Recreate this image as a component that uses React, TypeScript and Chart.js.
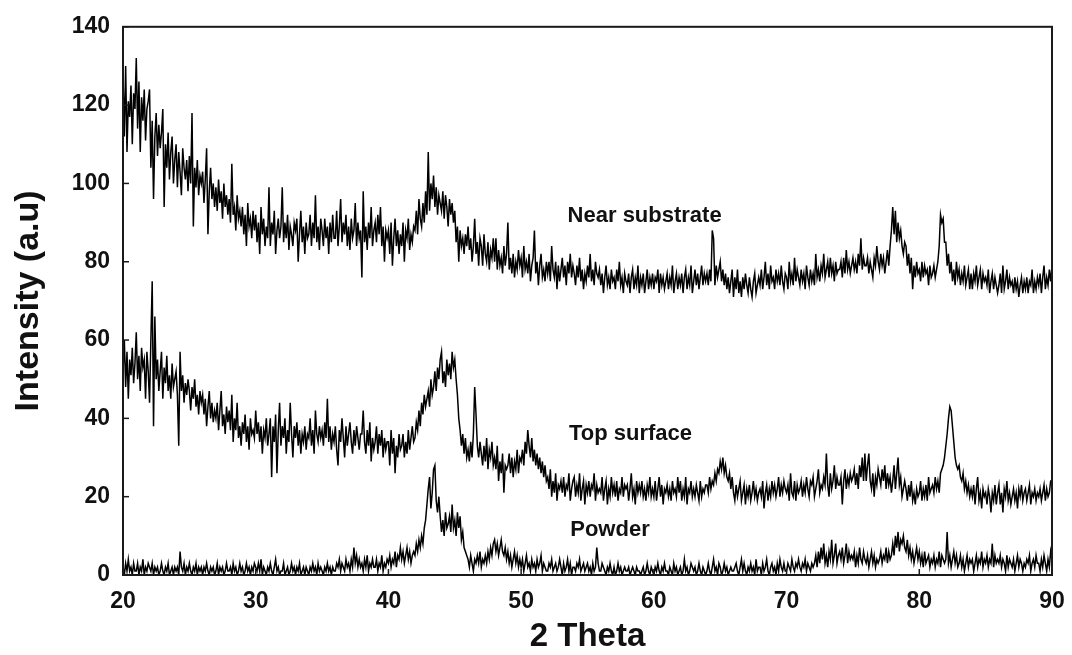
import React, { useEffect, useRef } from "react";
import { Chart, registerables } from "chart.js";

Chart.register(...registerables);

// 2-theta grid: first angle and step (degrees)
const START_ANGLE = 20;
const STEP = 0.1;

// Near substrate intensities, 20.0 -> 90.0 every 0.1 degree (one line per degree)
const nearSubstrate = [
  128, 112, 130, 108, 121, 117, 125, 110, 123, 119, // 20
  132, 114, 126, 108, 122, 116, 124, 111, 119, 121, // 21
  124, 104, 116, 96, 112, 118, 107, 115, 109, 113, // 22
  119, 94, 110, 104, 113, 101, 108, 112, 100, 106, // 23
  110, 99, 108, 103, 97, 109, 104, 101, 106, 98, // 24
  107, 100, 118, 89, 104, 99, 106, 97, 102, 100, // 25
  103, 95, 101, 109, 87, 98, 104, 96, 100, 94, // 26
  99, 93, 101, 95, 98, 91, 100, 94, 97, 92, // 27
  96, 90, 105, 92, 94, 88, 97, 91, 93, 89, // 28
  94, 87, 92, 84, 95, 89, 91, 86, 93, 88, // 29
  92, 85, 90, 82, 94, 87, 91, 84, 89, 86, // 30
  99, 84, 90, 87, 93, 82, 88, 91, 86, 89, // 31
  99, 85, 90, 86, 92, 83, 89, 87, 84, 90, // 32
  88, 91, 80, 87, 93, 85, 89, 82, 90, 86, // 33
  87, 92, 84, 90, 86, 97, 85, 89, 83, 91, // 34
  88, 84, 91, 86, 89, 82, 90, 85, 92, 86, // 35
  86, 93, 84, 89, 96, 85, 90, 87, 92, 84, // 36
  89, 83, 91, 86, 88, 95, 84, 90, 86, 88, // 37
  76, 98, 85, 89, 83, 90, 86, 94, 84, 88, // 38
  90, 85, 92, 87, 94, 84, 89, 80, 88, 86, // 39
  88, 82, 90, 79, 86, 91, 84, 88, 82, 87, // 40
  84, 90, 80, 88, 86, 91, 83, 87, 85, 89, // 41
  88, 93, 87, 96, 91, 89, 95, 90, 98, 92, // 42
  108, 93, 100, 96, 102, 94, 99, 92, 97, 95, // 43
  93, 98, 91, 97, 94, 89, 96, 92, 95, 90, // 44
  93, 85, 89, 80, 88, 84, 86, 82, 87, 84, // 45
  89, 83, 86, 80, 84, 91, 82, 85, 79, 86, // 46
  84, 79, 87, 82, 80, 85, 78, 83, 81, 86, // 47
  80, 86, 78, 83, 79, 81, 77, 84, 79, 82, // 48
  90, 78, 81, 77, 82, 76, 80, 78, 83, 79, // 49
  81, 76, 84, 78, 80, 77, 82, 75, 79, 81, // 50
  88, 77, 80, 74, 79, 82, 76, 78, 75, 80, // 51
  77, 80, 75, 84, 78, 76, 80, 73, 79, 75, // 52
  78, 81, 76, 79, 74, 80, 77, 82, 76, 79, // 53
  77, 74, 79, 76, 81, 75, 78, 73, 77, 75, // 54
  79, 76, 82, 75, 78, 74, 80, 77, 76, 78, // 55
  74, 77, 72, 76, 79, 74, 76, 73, 78, 75, // 56
  76, 73, 78, 75, 80, 74, 76, 72, 77, 75, // 57
  74, 77, 72, 76, 78, 73, 76, 74, 79, 72, // 58
  76, 74, 77, 72, 75, 78, 73, 76, 74, 77, // 59
  73, 76, 75, 78, 72, 77, 74, 76, 73, 75, // 60
  77, 73, 76, 74, 79, 72, 75, 77, 73, 76, // 61
  74, 77, 72, 76, 78, 73, 76, 74, 79, 72, // 62
  75, 78, 74, 77, 73, 76, 79, 74, 77, 75, // 63
  77, 74, 78, 75, 88, 86, 74, 79, 76, 78, // 64
  80, 75, 78, 74, 77, 73, 76, 72, 75, 78, // 65
  71, 76, 73, 78, 72, 75, 71, 76, 73, 77, // 66
  74, 72, 76, 73, 71, 75, 77, 72, 74, 76, // 67
  74, 78, 73, 76, 80, 74, 77, 73, 79, 75, // 68
  76, 73, 78, 75, 77, 74, 79, 75, 73, 77, // 69
  76, 73, 80, 75, 77, 74, 81, 75, 78, 76, // 70
  74, 78, 75, 77, 73, 79, 76, 74, 78, 75, // 71
  77, 74, 82, 76, 78, 75, 79, 77, 82, 76, // 72
  78, 80, 76, 81, 77, 79, 75, 80, 77, 78, // 73
  78, 80, 76, 81, 77, 83, 78, 80, 77, 79, // 74
  81, 78, 80, 77, 82, 79, 86, 78, 81, 79, // 75
  79, 81, 77, 80, 78, 76, 81, 79, 84, 80, // 76
  78, 82, 79, 81, 77, 80, 83, 79, 84, 88, // 77
  94, 87, 93, 85, 90, 86, 88, 84, 82, 85, // 78
  84, 79, 82, 77, 81, 73, 79, 76, 80, 77, // 79
  78, 75, 80, 76, 79, 77, 78, 74, 79, 76, // 80
  77, 79, 76, 78, 80, 84, 92, 90, 91, 85, // 81
  85, 79, 82, 77, 80, 75, 78, 74, 80, 76, // 82
  78, 74, 77, 75, 79, 74, 76, 78, 73, 77, // 83
  73, 77, 75, 79, 74, 76, 78, 73, 77, 75, // 84
  76, 74, 78, 72, 75, 77, 73, 76, 74, 72, // 85
  74, 77, 72, 79, 73, 75, 78, 73, 76, 74, // 86
  75, 72, 76, 73, 75, 71, 74, 76, 72, 75, // 87
  73, 76, 72, 75, 74, 78, 72, 75, 73, 76, // 88
  74, 77, 72, 76, 79, 73, 76, 74, 78, 75, // 89
  79, // 90
];

// Top surface intensities
const topSurface = [
  52, 60, 48, 57, 45, 55, 51, 58, 49, 54, // 20
  62, 50, 56, 47, 58, 53, 55, 45, 57, 52, // 21
  44, 60, 75, 38, 66, 50, 55, 47, 52, 57, // 22
  45, 53, 49, 56, 47, 51, 45, 54, 48, 50, // 23
  52, 46, 33, 57, 47, 51, 44, 49, 46, 50, // 24
  47, 42, 48, 45, 50, 43, 46, 41, 47, 44, // 25
  46, 41, 45, 38, 43, 47, 40, 44, 39, 42, // 26
  40, 44, 37, 42, 47, 38, 41, 36, 43, 39, // 27
  42, 37, 46, 34, 40, 37, 44, 35, 38, 33, // 28
  39, 36, 41, 34, 38, 32, 40, 36, 37, 35, // 29
  42, 36, 39, 34, 38, 31, 37, 35, 40, 33, // 30
  36, 40, 25, 38, 34, 41, 26, 37, 44, 33, // 31
  38, 35, 40, 31, 37, 34, 44, 36, 30, 38, // 32
  35, 39, 33, 37, 31, 36, 34, 38, 32, 36, // 33
  35, 40, 33, 37, 31, 42, 36, 34, 38, 35, // 34
  37, 33, 39, 35, 45, 34, 38, 32, 36, 34, // 35
  38, 32, 28, 37, 34, 40, 35, 30, 38, 33, // 36
  36, 39, 34, 31, 37, 33, 38, 35, 32, 36, // 37
  36, 42, 34, 31, 37, 33, 39, 29, 35, 32, // 38
  34, 38, 31, 36, 33, 37, 30, 35, 32, 34, // 39
  34, 28, 37, 31, 35, 26, 33, 30, 36, 32, // 40
  33, 36, 30, 34, 31, 37, 32, 35, 38, 34, // 41
  35, 39, 37, 42, 38, 44, 41, 46, 43, 45, // 42
  47, 43, 50, 46, 48, 52, 47, 53, 50, 55, // 43
  57, 49, 52, 48, 55, 51, 54, 50, 57, 53, // 44
  55, 50, 46, 40, 37, 33, 36, 31, 35, 30, // 45
  32, 29, 34, 30, 36, 48, 41, 33, 30, 34, // 46
  31, 28, 33, 29, 35, 27, 32, 30, 34, 28, // 47
  30, 27, 33, 24, 29, 26, 31, 21, 28, 27, // 48
  28, 31, 26, 30, 25, 29, 27, 32, 26, 30, // 49
  29, 32, 28, 34, 31, 37, 33, 30, 35, 29, // 50
  32, 28, 31, 27, 30, 26, 29, 25, 28, 24, // 51
  25, 22, 27, 20, 24, 21, 26, 19, 23, 22, // 52
  24, 21, 25, 20, 23, 22, 26, 19, 22, 24, // 53
  25, 20, 23, 21, 26, 19, 22, 24, 18, 23, // 54
  21, 24, 20, 23, 22, 26, 19, 23, 21, 22, // 55
  21, 25, 19, 22, 24, 18, 22, 20, 25, 21, // 56
  23, 20, 24, 19, 22, 21, 25, 20, 23, 22, // 57
  23, 19, 22, 26, 20, 22, 18, 24, 21, 23, // 58
  21, 24, 20, 22, 19, 23, 21, 25, 20, 22, // 59
  20, 24, 19, 22, 25, 20, 23, 18, 22, 21, // 60
  23, 20, 22, 19, 24, 21, 22, 20, 25, 21, // 61
  24, 19, 22, 20, 25, 18, 22, 21, 24, 20, // 62
  22, 20, 23, 21, 19, 24, 20, 22, 21, 23, // 63
  23, 21, 25, 22, 24, 23, 26, 24, 27, 26, // 64
  29, 27, 30, 26, 28, 25, 24, 26, 22, 25, // 65
  21, 19, 23, 20, 22, 24, 19, 21, 23, 18, // 66
  22, 20, 23, 19, 21, 24, 20, 22, 19, 21, // 67
  22, 20, 24, 17, 21, 23, 19, 22, 20, 24, // 68
  21, 23, 20, 22, 25, 20, 23, 21, 24, 22, // 69
  21, 23, 19, 26, 21, 20, 24, 19, 23, 21, // 70
  22, 24, 20, 23, 21, 25, 22, 20, 24, 23, // 71
  25, 20, 22, 24, 27, 21, 23, 22, 25, 23, // 72
  31, 23, 20, 26, 22, 24, 28, 22, 25, 23, // 73
  23, 25, 18, 24, 27, 22, 25, 23, 26, 24, // 74
  25, 27, 23, 26, 22, 28, 25, 30, 24, 31, // 75
  24, 28, 31, 24, 22, 26, 20, 25, 23, 27, // 76
  25, 23, 27, 24, 28, 22, 26, 23, 25, 21, // 77
  24, 28, 22, 26, 30, 23, 25, 20, 22, 24, // 78
  22, 19, 23, 20, 24, 19, 21, 18, 22, 20, // 79
  21, 24, 19, 22, 20, 23, 19, 25, 21, 22, // 80
  23, 21, 25, 22, 24, 21, 26, 27, 28, 30, // 81
  33, 36, 40, 43, 42, 38, 34, 30, 28, 27, // 82
  28, 25, 24, 26, 22, 24, 21, 23, 20, 22, // 83
  20, 23, 18, 22, 25, 19, 21, 17, 22, 20, // 84
  21, 18, 22, 20, 16, 21, 19, 23, 18, 21, // 85
  23, 18, 21, 16, 22, 20, 24, 19, 21, 18, // 86
  20, 22, 19, 21, 17, 22, 20, 23, 19, 21, // 87
  22, 19, 21, 23, 18, 21, 20, 22, 19, 21, // 88
  20, 22, 19, 21, 23, 19, 22, 20, 21, 24, // 89
  24, // 90
];

// Powder intensities
const powder = [
  2, 0, 3, 1, 4, 1, 2, 0, 3, 1, // 20
  1, 3, 0, 2, 1, 4, 0, 2, 1, 3, // 21
  2, 1, 3, 0, 2, 1, 2, 0, 1, 3, // 22
  1, 0, 2, 1, 3, 0, 1, 2, 0, 2, // 23
  1, 2, 0, 6, 2, 1, 3, 0, 2, 1, // 24
  3, 1, 0, 2, 1, 3, 0, 2, 1, 2, // 25
  0, 2, 1, 3, 1, 0, 2, 1, 2, 0, // 26
  1, 3, 0, 2, 1, 2, 0, 1, 3, 1, // 27
  1, 2, 0, 3, 1, 2, 0, 1, 3, 1, // 28
  2, 0, 1, 3, 1, 2, 0, 2, 1, 3, // 29
  2, 1, 3, 1, 4, 0, 2, 1, 0, 2, // 30
  1, 3, 1, 0, 2, 4, 1, 2, 0, 1, // 31
  1, 3, 0, 1, 2, 0, 1, 3, 1, 2, // 32
  0, 2, 1, 3, 0, 1, 2, 0, 2, 1, // 33
  0, 2, 1, 3, 1, 2, 0, 3, 1, 2, // 34
  1, 0, 2, 1, 3, 1, 2, 0, 2, 1, // 35
  1, 3, 2, 4, 1, 3, 2, 1, 4, 2, // 36
  3, 1, 4, 2, 7, 3, 5, 2, 4, 2, // 37
  3, 1, 4, 2, 5, 1, 3, 2, 4, 2, // 38
  2, 4, 1, 3, 2, 5, 1, 3, 2, 4, // 39
  3, 5, 2, 4, 3, 6, 2, 5, 4, 7, // 40
  4, 6, 3, 5, 7, 4, 6, 3, 5, 6, // 41
  5, 8, 6, 9, 7, 10, 8, 12, 14, 18, // 42
  22, 25, 17, 21, 27, 28, 19, 16, 20, 15, // 43
  11, 14, 10, 16, 12, 13, 15, 11, 18, 12, // 44
  14, 10, 16, 12, 15, 9, 11, 7, 6, 5, // 45
  4, 2, 5, 3, 1, 4, 3, 5, 3, 6, // 46
  2, 4, 3, 5, 3, 6, 4, 7, 5, 8, // 47
  9, 6, 8, 5, 7, 9, 6, 5, 7, 4, // 48
  6, 3, 5, 2, 4, 6, 3, 5, 2, 4, // 49
  2, 4, 1, 3, 5, 2, 3, 1, 4, 2, // 50
  3, 1, 4, 2, 3, 5, 1, 3, 2, 1, // 51
  1, 3, 2, 4, 1, 2, 3, 1, 2, 4, // 52
  2, 0, 3, 1, 2, 4, 1, 3, 0, 2, // 53
  2, 1, 3, 2, 4, 1, 2, 3, 1, 2, // 54
  3, 1, 2, 0, 3, 1, 2, 7, 3, 1, // 55
  1, 3, 2, 1, 0, 2, 1, 3, 1, 0, // 56
  2, 0, 1, 3, 1, 2, 0, 1, 2, 1, // 57
  1, 2, 0, 1, 2, 1, 0, 2, 1, 1, // 58
  0, 1, 2, 0, 1, 3, 1, 0, 2, 1, // 59
  0, 2, 1, 3, 1, 0, 2, 1, 3, 1, // 60
  1, 0, 2, 1, 0, 3, 1, 2, 0, 1, // 61
  2, 0, 1, 4, 1, 2, 0, 1, 3, 2, // 62
  1, 2, 0, 1, 3, 1, 0, 2, 1, 0, // 63
  1, 3, 1, 0, 2, 4, 1, 2, 0, 3, // 64
  2, 0, 1, 3, 1, 2, 0, 1, 2, 1, // 65
  1, 2, 3, 1, 0, 2, 4, 1, 3, 1, // 66
  0, 2, 1, 3, 1, 2, 0, 4, 1, 2, // 67
  2, 0, 3, 1, 2, 4, 1, 0, 2, 3, // 68
  1, 2, 0, 3, 1, 4, 2, 1, 3, 1, // 69
  1, 3, 2, 1, 4, 2, 1, 3, 2, 4, // 70
  2, 1, 3, 2, 4, 1, 3, 2, 1, 3, // 71
  2, 3, 5, 2, 6, 3, 7, 4, 8, 3, // 72
  5, 2, 6, 4, 9, 3, 5, 8, 3, 5, // 73
  6, 4, 7, 3, 5, 8, 3, 6, 4, 5, // 74
  4, 6, 2, 5, 3, 7, 4, 3, 6, 4, // 75
  3, 5, 2, 4, 6, 3, 5, 2, 4, 3, // 76
  4, 6, 3, 5, 4, 7, 3, 6, 4, 5, // 77
  8, 5, 10, 7, 11, 6, 9, 8, 10, 7, // 78
  6, 9, 5, 7, 4, 6, 3, 5, 7, 4, // 79
  6, 3, 5, 2, 6, 3, 4, 5, 2, 4, // 80
  3, 5, 2, 4, 3, 6, 2, 5, 4, 3, // 81
  4, 11, 3, 5, 2, 4, 6, 3, 5, 2, // 82
  3, 5, 2, 4, 1, 3, 5, 2, 4, 3, // 83
  4, 1, 3, 5, 2, 4, 3, 6, 2, 4, // 84
  3, 5, 2, 4, 3, 8, 2, 5, 3, 4, // 85
  3, 5, 2, 4, 3, 1, 5, 2, 4, 3, // 86
  2, 4, 1, 3, 5, 2, 4, 3, 1, 3, // 87
  2, 4, 3, 5, 1, 3, 4, 2, 5, 3, // 88
  3, 1, 4, 2, 5, 3, 1, 4, 2, 6, // 89
  4, // 90
];

const xTickValues = [20, 30, 40, 50, 60, 70, 80, 90];
const yTickValues = [0, 20, 40, 60, 80, 100, 120, 140];

const seriesNames = ["Near substrate", "Top surface", "Powder"];
const labelAngles = [53.5, 53.6, 53.7];
const labelLevels = [91.6, 36.1, 11.5];

const FONT = '"Liberation Sans", Arial, sans-serif';

function toPoints(values: number[]) {
  return values.map((v, i) => ({ x: Math.round((START_ANGLE + i * STEP) * 10) / 10, y: v }));
}

const framePlugin = {
  id: "frameAndLabels",
  afterDatasetsDraw(chart: any) {
    const { ctx, chartArea, scales } = chart;
    const { left, top, right, bottom } = chartArea;
    ctx.save();
    ctx.strokeStyle = "#1a1a1a";
    ctx.lineWidth = 2;
    ctx.strokeRect(left, top, right - left, bottom - top);
    ctx.lineWidth = 1.5;
    yTickValues.forEach((v) => {
      const y = scales.y.getPixelForValue(v);
      ctx.beginPath();
      ctx.moveTo(left, y);
      ctx.lineTo(left + 6, y);
      ctx.stroke();
    });
    xTickValues.forEach((v) => {
      const x = scales.x.getPixelForValue(v);
      ctx.beginPath();
      ctx.moveTo(x, bottom);
      ctx.lineTo(x, bottom - 6);
      ctx.stroke();
    });
    ctx.font = `bold 22px ${FONT}`;
    ctx.fillStyle = "#111";
    ctx.textAlign = "left";
    ctx.textBaseline = "middle";
    seriesNames.forEach((name, i) => {
      ctx.fillText(
        name,
        scales.x.getPixelForValue(labelAngles[i]),
        scales.y.getPixelForValue(labelLevels[i])
      );
    });
    ctx.restore();
  },
};

export default function App() {
  const canvasRef = useRef<HTMLCanvasElement | null>(null);

  useEffect(() => {
    if (!canvasRef.current) return;
    const mk = (label: string, values: number[]) => ({
      label,
      data: toPoints(values),
      borderColor: "#000",
      borderWidth: 1.5,
      pointRadius: 0,
      tension: 0,
      fill: false,
    });
    const chart = new Chart(canvasRef.current, {
      type: "line",
      data: {
        datasets: [
          mk(seriesNames[0], nearSubstrate),
          mk(seriesNames[1], topSurface),
          mk(seriesNames[2], powder),
        ],
      },
      options: {
        animation: false,
        responsive: true,
        maintainAspectRatio: false,
        layout: { padding: { left: 0, top: 25, right: 20, bottom: 0 } },
        plugins: { legend: { display: false }, tooltip: { enabled: false } },
        scales: {
          x: {
            type: "linear",
            min: 20,
            max: 90,
            afterBuildTicks: (s: any) => {
              s.ticks = xTickValues.map((v) => ({ value: v }));
            },
            afterFit: (s: any) => {
              s.height = 80;
              s.paddingLeft = 13;
              s.paddingRight = 13;
            },
            grid: { display: false, drawTicks: false },
            border: { display: false },
            ticks: {
              color: "#111",
              padding: 13,
              font: { family: FONT, size: 23, weight: "bold" },
              maxRotation: 0,
            },
            title: {
              display: true,
              text: "2 Theta",
              color: "#111",
              font: { family: FONT, size: 33, weight: "bold", lineHeight: 1.1 },
              padding: { top: 0, bottom: 0 },
            },
          },
          y: {
            type: "linear",
            min: 0,
            max: 140,
            afterBuildTicks: (s: any) => {
              s.ticks = yTickValues.map((v) => ({ value: v }));
            },
            afterFit: (s: any) => {
              s.width = 123;
            },
            grid: { display: false, drawTicks: false },
            border: { display: false },
            ticks: {
              color: "#111",
              padding: 13,
              font: { family: FONT, size: 23, weight: "bold" },
            },
            title: {
              display: true,
              text: "Intensity (a.u)",
              color: "#111",
              font: { family: FONT, size: 34, weight: "bold", lineHeight: 1.2 },
              padding: { top: 8, bottom: 0 },
            },
          },
        },
      },
      plugins: [framePlugin],
    });
    return () => chart.destroy();
  }, []);

  return (
    <div style={{ position: "absolute", left: 0, top: 0, width: 1072, height: 655, background: "#fff" }}>
      <canvas ref={canvasRef} />
    </div>
  );
}
